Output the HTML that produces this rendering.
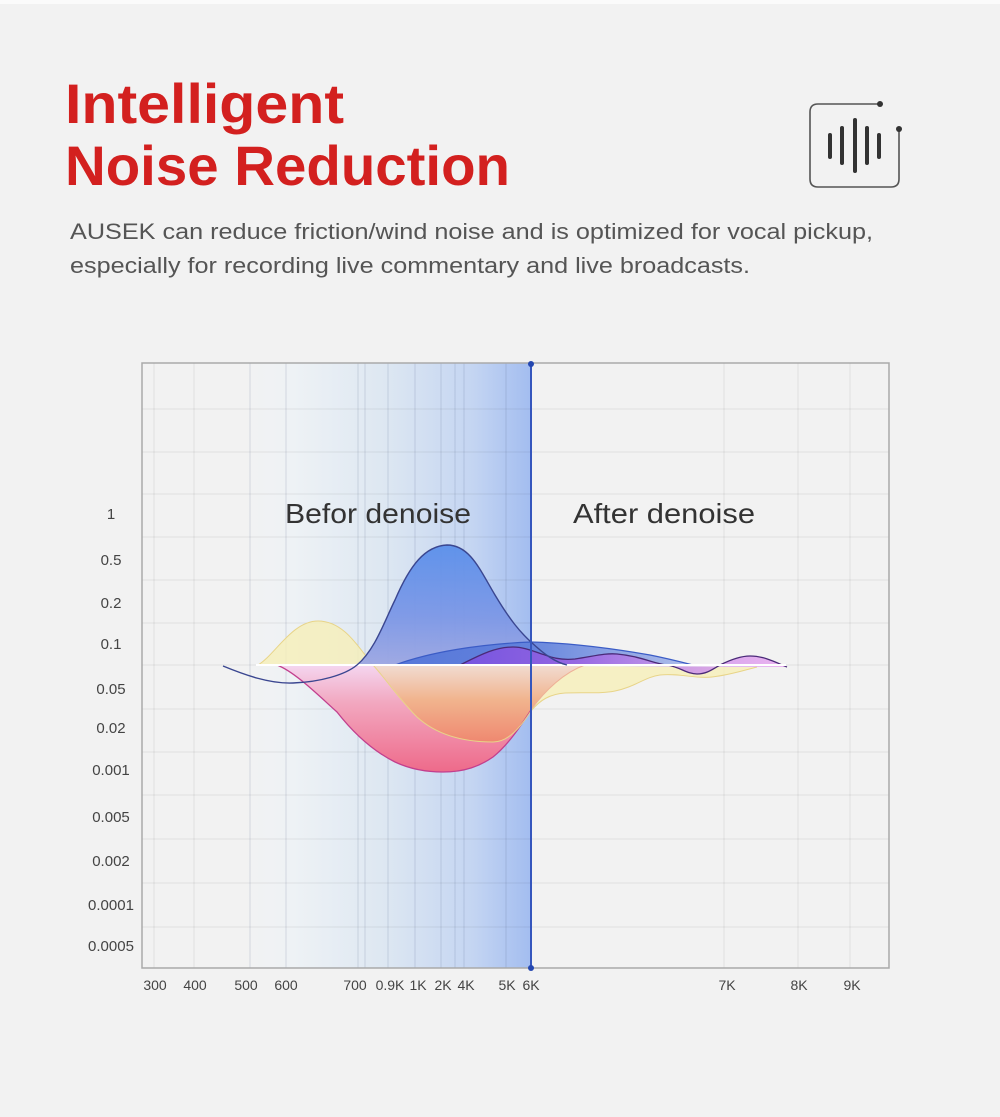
<!DOCTYPE html>
<html><head><meta charset="utf-8"><style>
html,body{margin:0;padding:0;background:#f2f2f2;}
svg{display:block;}
</style></head><body>
<svg width="1000" height="1117" viewBox="0 0 1000 1117" xmlns="http://www.w3.org/2000/svg">
<defs>
<linearGradient id="col" x1="240" y1="0" x2="531" y2="0" gradientUnits="userSpaceOnUse">
<stop offset="0" stop-color="#f2f2f2"/>
<stop offset="0.18" stop-color="#eef2f5"/>
<stop offset="0.5" stop-color="#dde7f2"/>
<stop offset="0.8" stop-color="#c4d5f2"/>
<stop offset="1" stop-color="#a3bdf0"/>
</linearGradient>
<linearGradient id="bluepk" x1="0" y1="545" x2="0" y2="665" gradientUnits="userSpaceOnUse">
<stop offset="0" stop-color="#5a8fea"/>
<stop offset="0.6" stop-color="#7c97e6"/>
<stop offset="1" stop-color="#9ca6e2"/>
</linearGradient>
<linearGradient id="band" x1="395" y1="0" x2="693" y2="0" gradientUnits="userSpaceOnUse">
<stop offset="0" stop-color="#4f72d8"/>
<stop offset="0.5" stop-color="#5f80dc"/>
<stop offset="1" stop-color="#a9b9ea"/>
</linearGradient>
<linearGradient id="purp" x1="460" y1="0" x2="787" y2="0" gradientUnits="userSpaceOnUse">
<stop offset="0" stop-color="#7b4ee0"/>
<stop offset="0.35" stop-color="#9a5fe2"/>
<stop offset="0.6" stop-color="#c08ae8"/>
<stop offset="1" stop-color="#eaa9f0"/>
</linearGradient>
<linearGradient id="pink" x1="0" y1="665" x2="0" y2="772" gradientUnits="userSpaceOnUse">
<stop offset="0" stop-color="#f4d6f0"/>
<stop offset="0.35" stop-color="#f2a8c0"/>
<stop offset="1" stop-color="#ee6a8a"/>
</linearGradient>
<linearGradient id="orange" x1="0" y1="665" x2="0" y2="742" gradientUnits="userSpaceOnUse">
<stop offset="0" stop-color="#f1dcd2"/>
<stop offset="0.45" stop-color="#f1b48e"/>
<stop offset="1" stop-color="#ef8870"/>
</linearGradient>
<clipPath id="pinkclip">
<path d="M277,665 C295,672 318,695 337,712 C355,735 375,752 395,762 C410,769 425,772 443,772 C465,772 480,766 493,757 C508,745 520,727 531,710 C545,690 565,672 585,665 Z"/>
</clipPath>
</defs>

<rect x="0" y="0" width="1000" height="1117" fill="#f2f2f2"/>
<rect x="0" y="0" width="1000" height="4" fill="#fbfbfb"/>

<!-- Title -->
<text x="65" y="123" font-family="Liberation Sans, Arial, sans-serif" font-weight="bold" font-size="56" fill="#d3201f" textLength="279" lengthAdjust="spacingAndGlyphs">Intelligent</text>
<text x="65" y="185" font-family="Liberation Sans, Arial, sans-serif" font-weight="bold" font-size="56" fill="#d3201f" textLength="445" lengthAdjust="spacingAndGlyphs">Noise Reduction</text>

<!-- Subtitle -->
<text x="70" y="239" font-family="Liberation Sans, Arial, sans-serif" font-size="22" fill="#555" textLength="803" lengthAdjust="spacingAndGlyphs">AUSEK can reduce friction/wind noise and is optimized for vocal pickup,</text>
<text x="70" y="273" font-family="Liberation Sans, Arial, sans-serif" font-size="22" fill="#555" textLength="680" lengthAdjust="spacingAndGlyphs">especially for recording live commentary and live broadcasts.</text>

<!-- Icon -->
<path d="M880,104 H818 Q810,104 810,112 V179 Q810,187 818,187 H891 Q899,187 899,179 V129" fill="none" stroke="#555" stroke-width="1.6"/>
<circle cx="880" cy="104" r="3" fill="#333"/>
<circle cx="899" cy="129" r="3" fill="#333"/>
<g stroke="#333" stroke-width="4" stroke-linecap="round">
<line x1="830" y1="135" x2="830" y2="157"/>
<line x1="842" y1="128" x2="842" y2="163"/>
<line x1="855" y1="120" x2="855" y2="171"/>
<line x1="867" y1="128" x2="867" y2="163"/>
<line x1="879" y1="135" x2="879" y2="157"/>
</g>

<!-- Chart column background -->
<rect x="240" y="363" width="291" height="605" fill="url(#col)"/>

<!-- Gridlines -->
<g stroke="#000" stroke-opacity="0.07" stroke-width="1">
<line x1="142" y1="409" x2="889" y2="409"/>
<line x1="142" y1="452" x2="889" y2="452"/>
<line x1="142" y1="494" x2="889" y2="494"/>
<line x1="142" y1="537" x2="889" y2="537"/>
<line x1="142" y1="580" x2="889" y2="580"/>
<line x1="142" y1="623" x2="889" y2="623"/>
<line x1="142" y1="665" x2="889" y2="665"/>
<line x1="142" y1="709" x2="889" y2="709"/>
<line x1="142" y1="752" x2="889" y2="752"/>
<line x1="142" y1="795" x2="889" y2="795"/>
<line x1="142" y1="839" x2="889" y2="839"/>
<line x1="142" y1="883" x2="889" y2="883"/>
<line x1="142" y1="927" x2="889" y2="927"/>
<line x1="154" y1="363" x2="154" y2="968"/>
<line x1="194" y1="363" x2="194" y2="968"/>
<line x1="724" y1="363" x2="724" y2="968"/>
<line x1="798" y1="363" x2="798" y2="968"/>
<line x1="850" y1="363" x2="850" y2="968"/>
</g>
<g stroke="#3a4a70" stroke-opacity="0.16" stroke-width="1">
<line x1="250" y1="363" x2="250" y2="968"/>
<line x1="286" y1="363" x2="286" y2="968"/>
<line x1="358" y1="363" x2="358" y2="968"/>
<line x1="365" y1="363" x2="365" y2="968"/>
<line x1="388" y1="363" x2="388" y2="968"/>
<line x1="415" y1="363" x2="415" y2="968"/>
<line x1="441" y1="363" x2="441" y2="968"/>
<line x1="455" y1="363" x2="455" y2="968"/>
<line x1="464" y1="363" x2="464" y2="968"/>
<line x1="506" y1="363" x2="506" y2="968"/>
</g>

<!-- Yellow shape (pale) -->
<path d="M258,665 C275,655 292,621 318,621 C345,621 360,650 373,665 C385,678 400,700 417,717 C440,738 470,742 493,742 C508,742 520,728 531,711 C540,700 550,694 565,693 C585,692 600,694 615,691 C635,687 645,677 660,675 C680,673 695,679 712,677 C730,675 745,670 757,667 Z" fill="#f6efb8" fill-opacity="0.8"/>

<!-- Pink lower shape -->
<path d="M277,665 C295,672 318,695 337,712 C355,735 375,752 395,762 C410,769 425,772 443,772 C465,772 480,766 493,757 C508,745 520,727 531,710 C545,690 565,672 585,665 Z" fill="url(#pink)"/>

<!-- Orange overlap (yellow over pink) -->
<g clip-path="url(#pinkclip)">
<path d="M373,665 C385,678 400,700 417,717 C440,738 470,742 493,742 C508,742 520,728 531,711 C540,700 550,694 565,693 C585,692 600,694 615,691 L615,665 Z" fill="url(#orange)"/>
</g>

<path d="M277,665 C295,672 318,695 337,712 C355,735 375,752 395,762 C410,769 425,772 443,772 C465,772 480,766 493,757 C508,745 520,727 531,710" fill="none" stroke="#c23f8e" stroke-width="1.3"/>
<path d="M531,710 C545,690 565,672 585,665" fill="none" stroke="#eeb096" stroke-width="1"/>

<path d="M258,665 C275,655 292,621 318,621 C345,621 360,650 373,665 C385,678 400,700 417,717 C440,738 470,742 493,742 C508,742 520,728 531,711 C540,700 550,694 565,693 C585,692 600,694 615,691 C635,687 645,677 660,675 C680,673 695,679 712,677 C730,675 745,670 757,667" fill="none" stroke="#e8d488" stroke-width="1"/>

<!-- Blue peak fill -->
<path d="M357,665 C375,650 385,620 395,600 C410,565 425,546 447,545 C470,545 480,570 495,595 C510,620 520,632 531,642 C545,655 555,662 567,665 Z" fill="url(#bluepk)" fill-opacity="0.95"/>

<!-- Blue band -->
<path d="M395,665 C430,652 480,644 531,642 C570,643 610,648 650,655 C670,659 685,663 693,665 Z" fill="url(#band)" fill-opacity="0.9"/>
<path d="M395,665 C430,652 480,644 531,642 C570,643 610,648 650,655 C670,659 685,663 693,665" fill="none" stroke="#3b5cc6" stroke-width="1.2"/>

<!-- Purple -->
<path d="M460,665 C480,655 495,647 513,647 C525,647 535,652 545,655 C555,659 565,660 575,659 C595,656 605,653 617,654 C640,656 655,664 667,665 C680,667 687,674 697,674 C707,674 713,669 720,665 C730,660 740,656 750,656 C765,656 777,663 787,667 Z" fill="url(#purp)" fill-opacity="0.85"/>
<path d="M460,665 C480,655 495,647 513,647 C525,647 535,652 545,655 C555,659 565,660 575,659 C595,656 605,653 617,654 C640,656 655,664 667,665 C680,667 687,674 697,674 C707,674 713,669 720,665 C730,660 740,656 750,656 C765,656 777,663 787,667" fill="none" stroke="#4a2a78" stroke-width="1.3"/>

<!-- White baseline -->
<line x1="256" y1="665" x2="786" y2="665" stroke="#ffffff" stroke-width="2"/>

<!-- Navy curve -->
<path d="M223,666 C245,675 270,684 293,683 C320,682 345,675 357,665 C375,650 385,620 395,600 C410,565 425,546 447,545 C470,545 480,570 495,595 C510,620 520,632 531,642 C545,655 555,662 567,665" fill="none" stroke="#3a4690" stroke-width="1.4"/>

<!-- Chart border -->
<rect x="142" y="363" width="747" height="605" fill="none" stroke="#a9a9a9" stroke-width="1.5"/>

<!-- Vertical divider -->
<line x1="531" y1="363" x2="531" y2="968" stroke="#3556bd" stroke-width="2"/>
<circle cx="531" cy="364" r="3" fill="#2447b0"/>
<circle cx="531" cy="968" r="3" fill="#2447b0"/>

<!-- Labels in chart -->
<text x="285" y="523" font-family="Liberation Sans, Arial, sans-serif" font-size="28" fill="#333" textLength="186" lengthAdjust="spacingAndGlyphs">Befor denoise</text>
<text x="573" y="523" font-family="Liberation Sans, Arial, sans-serif" font-size="28" fill="#333" textLength="182" lengthAdjust="spacingAndGlyphs">After denoise</text>

<!-- Y axis labels -->
<g font-family="Liberation Sans, Arial, sans-serif" font-size="15" fill="#444" text-anchor="middle">
<text x="111" y="519">1</text>
<text x="111" y="565">0.5</text>
<text x="111" y="608">0.2</text>
<text x="111" y="649">0.1</text>
<text x="111" y="694">0.05</text>
<text x="111" y="733">0.02</text>
<text x="111" y="775">0.001</text>
<text x="111" y="822">0.005</text>
<text x="111" y="866">0.002</text>
<text x="111" y="910">0.0001</text>
<text x="111" y="951">0.0005</text>
</g>

<!-- X axis labels -->
<g font-family="Liberation Sans, Arial, sans-serif" font-size="14" fill="#444" text-anchor="middle">
<text x="155" y="990">300</text>
<text x="195" y="990">400</text>
<text x="246" y="990">500</text>
<text x="286" y="990">600</text>
<text x="355" y="990">700</text>
<text x="390" y="990">0.9K</text>
<text x="418" y="990">1K</text>
<text x="443" y="990">2K</text>
<text x="466" y="990">4K</text>
<text x="507" y="990">5K</text>
<text x="531" y="990">6K</text>
<text x="727" y="990">7K</text>
<text x="799" y="990">8K</text>
<text x="852" y="990">9K</text>
</g>
</svg>
</body></html>
